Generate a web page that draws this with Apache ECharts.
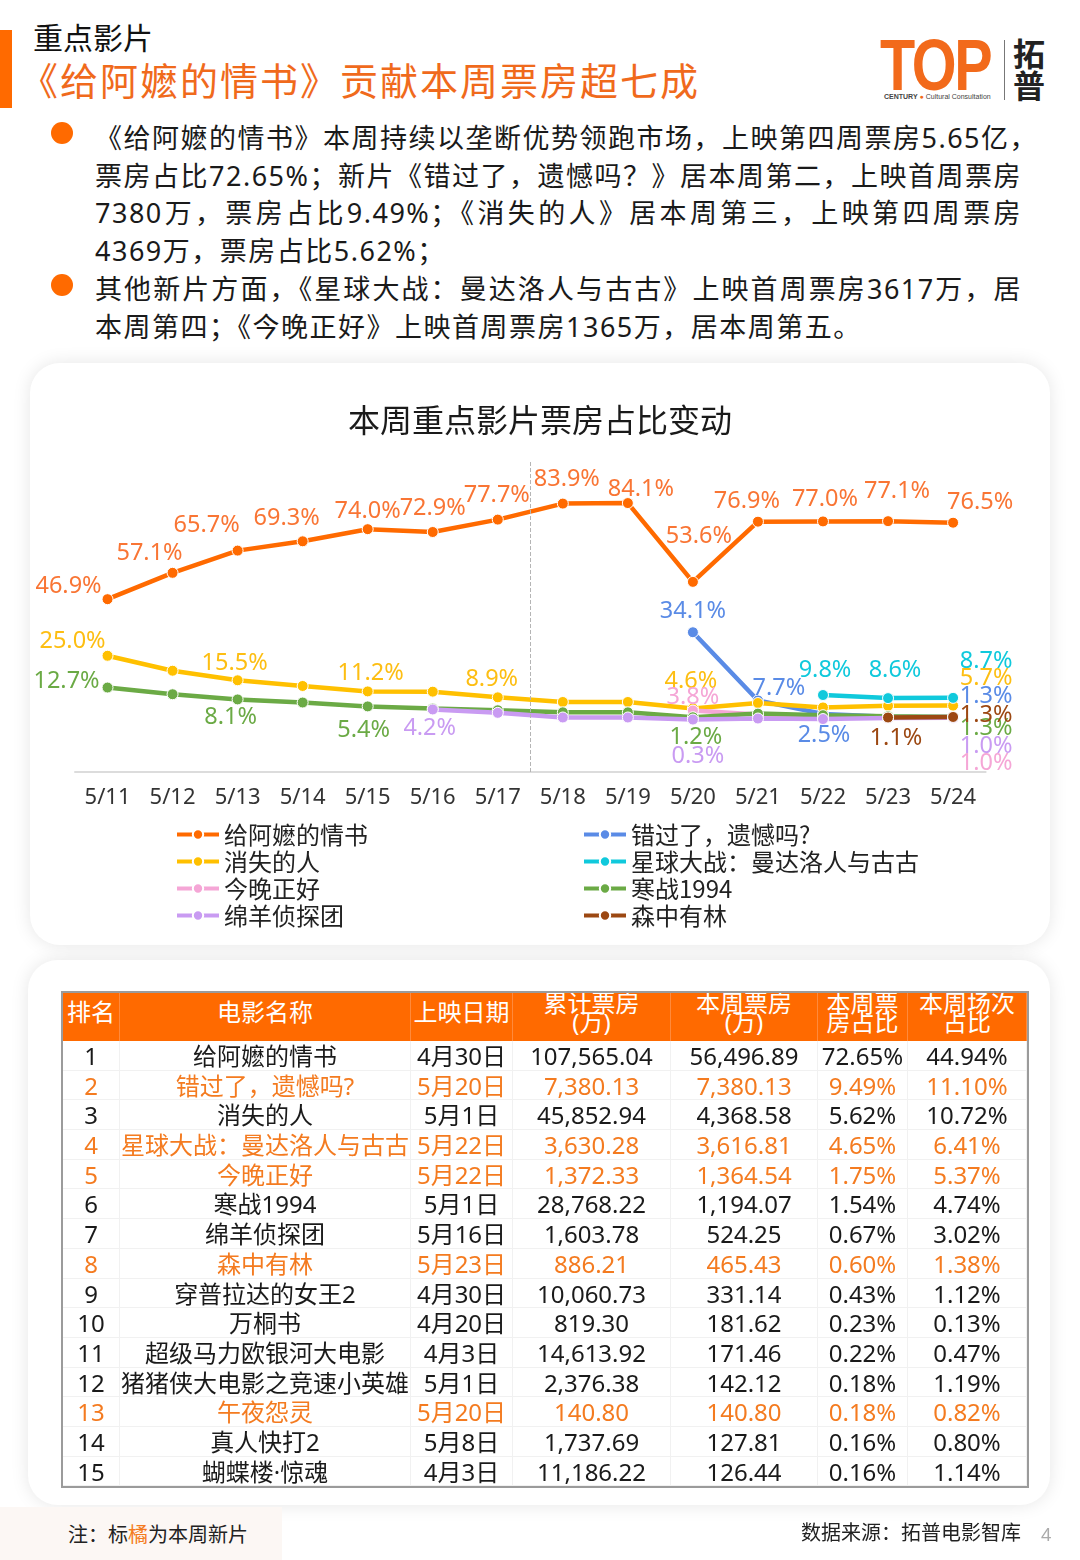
<!DOCTYPE html>
<html><head><meta charset="utf-8">
<script src="https://cdn.jsdelivr.net/npm/echarts@6/dist/echarts.min.js"></script>
<style>
html,body{margin:0;padding:0;background:#fff;}
body{width:1080px;height:1560px;position:relative;overflow:hidden;font-family:"Noto Sans","Noto Sans CJK SC",sans-serif;color:#1a1a1a;}
.abs{position:absolute;}
.card{background:#fff;border-radius:30px;box-shadow:0 0 18px rgba(0,0,0,0.10);}
.dot{position:absolute;width:22px;height:22px;border-radius:50%;background:#FF6A00;}
.para{position:absolute;left:95px;width:927px;font-size:27px;line-height:37.5px;letter-spacing:1.5px;color:#1a1a1a;}
.para div{white-space:nowrap;}
.para .j{text-align:justify;text-align-last:justify;}
#tbl{position:absolute;left:61px;top:991px;width:964px;border:2px solid #9b9b9b;}
.row{display:flex;height:29.7px;}
.row div{box-sizing:border-box;text-align:center;font-size:24px;line-height:29.7px;white-space:nowrap;border-right:1px solid #f1f1f1;border-bottom:1px solid #f1f1f1;}
.hrow{display:flex;height:48px;background:#FF6A00;}
.hrow div{box-sizing:border-box;text-align:center;color:#fff;font-size:24px;overflow:hidden;white-space:nowrap;border-right:1px solid #ff8a3c;}
.h1{padding-top:7px;line-height:24px;}
.h2{padding-top:0;line-height:19px;}
</style></head><body>

<!-- header -->
<div class="abs" style="left:0;top:30px;width:12px;height:78px;background:#FF6A00"></div>
<div class="abs" style="left:33px;top:19px;font-size:30px;line-height:38px;color:#111">重点影片</div>
<div class="abs" style="left:20px;top:57px;font-size:38px;line-height:46px;color:#F06A1C;letter-spacing:2px">《给阿嬷的情书》贡献本周票房超七成</div>

<!-- logo -->
<div class="abs" style="left:880px;top:27px;font-family:'Liberation Sans',sans-serif;font-weight:bold;font-size:72px;line-height:76px;color:#F26A1B;transform:scaleX(0.8);transform-origin:left top;letter-spacing:-3px">TOP</div>
<div class="abs" style="left:884px;top:92px;font-family:'Liberation Sans',sans-serif;font-size:7px;line-height:9px;color:#444;white-space:nowrap"><b>CENTURY</b> <span style="color:#F26A1B">●</span> Cultural Consultation</div>
<div class="abs" style="left:1004px;top:40px;width:1px;height:60px;background:#777"></div>
<div class="abs" style="left:1013px;top:36px;font-family:'Noto Sans CJK SC';font-weight:bold;font-size:32px;line-height:32px;color:#222">拓<br>普</div>

<!-- bullets -->
<div class="dot" style="left:51px;top:122px"></div>
<div class="para" style="top:119px">
<div class="j">《给阿嬷的情书》本周持续以垄断优势领跑市场，上映第四周票房5.65亿，</div>
<div class="j">票房占比72.65%；新片《错过了，遗憾吗？》居本周第二，上映首周票房</div>
<div class="j">7380万，票房占比9.49%；《消失的人》居本周第三，上映第四周票房</div>
<div>4369万，票房占比5.62%；</div>
</div>
<div class="dot" style="left:51px;top:274px"></div>
<div class="para" style="top:270px">
<div class="j">其他新片方面，《星球大战：曼达洛人与古古》上映首周票房3617万，居</div>
<div>本周第四；《今晚正好》上映首周票房1365万，居本周第五。</div>
</div>

<!-- chart card -->
<div class="abs card" style="left:30px;top:363px;width:1020px;height:582px"></div>
<div id="chart" class="abs" style="left:30px;top:363px;width:1020px;height:582px"></div>

<!-- table card -->
<div class="abs card" style="left:28px;top:960px;width:1022px;height:545px"></div>
<div id="tbl"></div>

<!-- footer -->
<div class="abs" style="left:0;top:1507px;width:282px;height:53px;background:#FCF7F4"></div>
<div class="abs" style="left:68px;top:1520px;font-size:20px;line-height:28px;color:#222;font-family:'Noto Sans CJK SC'">注：标<span style="color:#F47B20">橘</span>为本周新片</div>
<div class="abs" style="left:801px;top:1518px;font-size:20px;line-height:28px;color:#222;font-family:'Noto Sans CJK SC'">数据来源：拓普电影智库</div>
<div class="abs" style="left:1041px;top:1520px;font-size:18px;line-height:28px;color:#aaa">4</div>

<script>
// ---------- chart data ----------
const dates = ['5/11','5/12','5/13','5/14','5/15','5/16','5/17','5/18','5/19','5/20','5/21','5/22','5/23','5/24'];
const nameAma = '给阿嬷的情书';
const nameMiss = '错过了，遗憾吗?';
const nameLost = '消失的人';
const nameStar = '星球大战：曼达洛人与古古';
const nameTonight = '今晚正好';
const nameCold = '寒战1994';
const nameSheep = '绵羊侦探团';
const nameForest = '森中有林';
const shareAma     = [46.9,57.1,65.7,69.3,74.0,72.9,77.7,83.9,84.1,53.6,76.9,77.0,77.1,76.5];
const shareMiss    = [null,null,null,null,null,null,null,null,null,34.1,7.7,2.5,1.4,1.3];
const shareLost    = [25.0,19.2,15.5,13.3,11.2,11.1,8.9,7.1,7.1,4.6,6.7,5.0,5.6,5.7];
const shareStar    = [null,null,null,null,null,null,null,null,null,null,null,9.8,8.6,8.7];
const shareTonight = [null,null,null,null,null,null,null,null,null,3.8,2.3,1.5,1.2,1.0];
const shareCold    = [12.7,10.1,8.1,6.9,5.4,4.6,3.9,3.1,3.1,1.2,2.6,2.0,1.6,1.3];
const shareSheep   = [null,null,null,null,null,4.2,2.9,1.1,1.1,0.3,0.7,0.5,0.9,1.0];
const shareForest  = [null,null,null,null,null,null,null,null,null,null,null,null,1.1,1.3];

// ---------- table data ----------
const tHeaders = ['排名','电影名称','上映日期','累计票房<br>(万)','本周票房<br>(万)','本周票<br>房占比','本周场次<br>占比'];
const tRanks = ['1','2','3','4','5','6','7','8','9','10','11','12','13','14','15'];
const tNames = ['给阿嬷的情书','错过了，遗憾吗?','消失的人','星球大战：曼达洛人与古古','今晚正好','寒战1994','绵羊侦探团','森中有林','穿普拉达的女王2','万桐书','超级马力欧银河大电影','猪猪侠大电影之竞速小英雄','午夜怨灵','真人快打2','蝴蝶楼·惊魂'];
const tDates = ['4月30日','5月20日','5月1日','5月22日','5月22日','5月1日','5月16日','5月23日','4月30日','4月20日','4月3日','5月1日','5月20日','5月8日','4月3日'];
const tCumBox = ['107,565.04','7,380.13','45,852.94','3,630.28','1,372.33','28,768.22','1,603.78','886.21','10,060.73','819.30','14,613.92','2,376.38','140.80','1,737.69','11,186.22'];
const tWeekBox = ['56,496.89','7,380.13','4,368.58','3,616.81','1,364.54','1,194.07','524.25','465.43','331.14','181.62','171.46','142.12','140.80','127.81','126.44'];
const tBoxShare = ['72.65%','9.49%','5.62%','4.65%','1.75%','1.54%','0.67%','0.60%','0.43%','0.23%','0.22%','0.18%','0.18%','0.16%','0.16%'];
const tShowShare = ['44.94%','11.10%','10.72%','6.41%','5.37%','4.74%','3.02%','1.38%','1.12%','0.13%','0.47%','1.19%','0.82%','0.80%','1.14%'];
const tIsNew = [false,true,false,true,true,false,false,true,false,false,false,false,true,false,false];

// ---------- styling (not data) ----------
const colWidths = [57,291,102,158,147,90,119];
const labelOffsets = {
  ama: [[0,-39,-13],[1,-23,-20],[2,-31,-25],[3,-16,-23],[4,0,-18],[5,0,-24],[6,-1,-24],[7,4,-24],[8,13,-14],[9,6,-46],[10,-11,-20],[11,2,-22],[12,9,-30],[13,27,-20]],
  miss: [[9,0,-21],[10,21,-12],[11,1,21],[13,33,-21]],
  lost: [[0,-35,-14],[2,-3,-17],[4,3,-18],[6,-6,-18],[9,-2,-27],[13,33,-27]],
  star: [[11,2,-25],[12,7,-28],[13,33,-37]],
  tonight: [[9,0,-13],[13,33,46]],
  cold: [[0,-41,-6],[2,-7,18],[4,-4,24],[9,3,20],[13,33,11]],
  sheep: [[5,-3,19],[9,5,37],[13,33,29]],
  forest: [[12,8,21],[13,33,-2]]
};

function buildSeries(name, values, color, labelColor, offs) {
  const map = {};
  offs.forEach(o => { map[o[0]] = [o[1], o[2]]; });
  const data = values.map((v, i) => {
    if (v === null) return '-';
    if (map[i]) return { value: v, label: { show: true, position: 'inside', offset: map[i] } };
    return v;
  });
  return {
    name: name, type: 'line', data: data,
    symbol: 'circle', symbolSize: 11, showAllSymbol: true,
    lineStyle: { color: color, width: 4.5 },
    itemStyle: { color: color, borderColor: '#fff', borderWidth: 1 },
    label: { show: false, color: labelColor, fontSize: 23.5, fontFamily: 'Noto Sans',
      formatter: p => Number(p.value).toFixed(1) + '%' },
    emphasis: { disabled: true },
    z: 2
  };
}

const chart = echarts.init(document.getElementById('chart'), null, { renderer: 'canvas' });
const series = [
  buildSeries(nameAma, shareAma, '#FF6A00', '#F97534', labelOffsets.ama),
  buildSeries(nameMiss, shareMiss, '#5A8BE6', '#5A8BE6', labelOffsets.miss),
  buildSeries(nameLost, shareLost, '#FFC000', '#FDBE12', labelOffsets.lost),
  buildSeries(nameStar, shareStar, '#10C9DC', '#10C9DC', labelOffsets.star),
  buildSeries(nameTonight, shareTonight, '#F5A6D6', '#F5A6D6', labelOffsets.tonight),
  buildSeries(nameCold, shareCold, '#6BAA45', '#6BAA45', labelOffsets.cold),
  buildSeries(nameSheep, shareSheep, '#C99BF2', '#C99BF2', labelOffsets.sheep),
  buildSeries(nameForest, shareForest, '#9C4812', '#9C4812', labelOffsets.forest)
];
series.push({
  type: 'line', xAxisIndex: 1, data: [[6.5, -50]], showSymbol: false, silent: true,
  lineStyle: { width: 0 },
  markLine: { silent: true, symbol: ['none', 'none'], label: { show: false },
    lineStyle: { type: 'dashed', color: '#b5b5b5', width: 1 }, data: [{ xAxis: 6.5 }] }
});

const legendCommon = {
  orient: 'vertical', top: 458, padding: 0, itemGap: 0, itemWidth: 42, itemHeight: 13,
  selectedMode: false, lineStyle: { width: 4 },
  textStyle: { fontSize: 24, lineHeight: 27, color: '#222', fontFamily: 'Noto Sans CJK SC' }
};

chart.setOption({
  animation: false,
  backgroundColor: 'transparent',
  textStyle: { fontFamily: 'Noto Sans, Noto Sans CJK SC' },
  title: { text: '本周重点影片票房占比变动', left: 'center', top: 38, padding: 0,
    textStyle: { fontSize: 32, lineHeight: 38, fontWeight: 'normal', color: '#1a1a1a', fontFamily: 'Noto Sans CJK SC' } },
  grid: { left: 45, right: 64.4, top: 99, bottom: 173 },
  xAxis: [
    { type: 'category', data: dates, boundaryGap: true,
      axisLine: { onZero: false, lineStyle: { color: '#dcdcdc', width: 2 } },
      axisTick: { show: false },
      axisLabel: { fontSize: 22, color: '#333', margin: 15, fontFamily: 'Noto Sans' },
      splitLine: { show: false } },
    { type: 'value', min: -0.5, max: 13.5, show: false }
  ],
  yAxis: { type: 'value', min: -20, max: 100, show: false, splitLine: { show: false } },
  legend: [
    Object.assign({ data: [nameAma, nameLost, nameTonight, nameSheep], left: 145 }, legendCommon),
    Object.assign({ data: [nameMiss, nameStar, nameCold, nameForest], left: 552 }, legendCommon)
  ],
  series: series
});

// ---------- table ----------
const tbl = document.getElementById('tbl');
let html = '<div class="hrow">';
tHeaders.forEach((h, c) => {
  const cls = h.indexOf('<br>') >= 0 ? 'h2' : 'h1';
  html += '<div class="' + cls + '" style="width:' + colWidths[c] + 'px">' + h + '</div>';
});
html += '</div>';
for (let r = 0; r < tRanks.length; r++) {
  const color = tIsNew[r] ? '#F47B20' : '#1a1a1a';
  const cells = [tRanks[r], tNames[r], tDates[r], tCumBox[r], tWeekBox[r], tBoxShare[r], tShowShare[r]];
  html += '<div class="row">';
  cells.forEach((v, c) => {
    html += '<div style="width:' + colWidths[c] + 'px;color:' + color + '">' + v + '</div>';
  });
  html += '</div>';
}
tbl.innerHTML = html;
</script>
</body></html>
